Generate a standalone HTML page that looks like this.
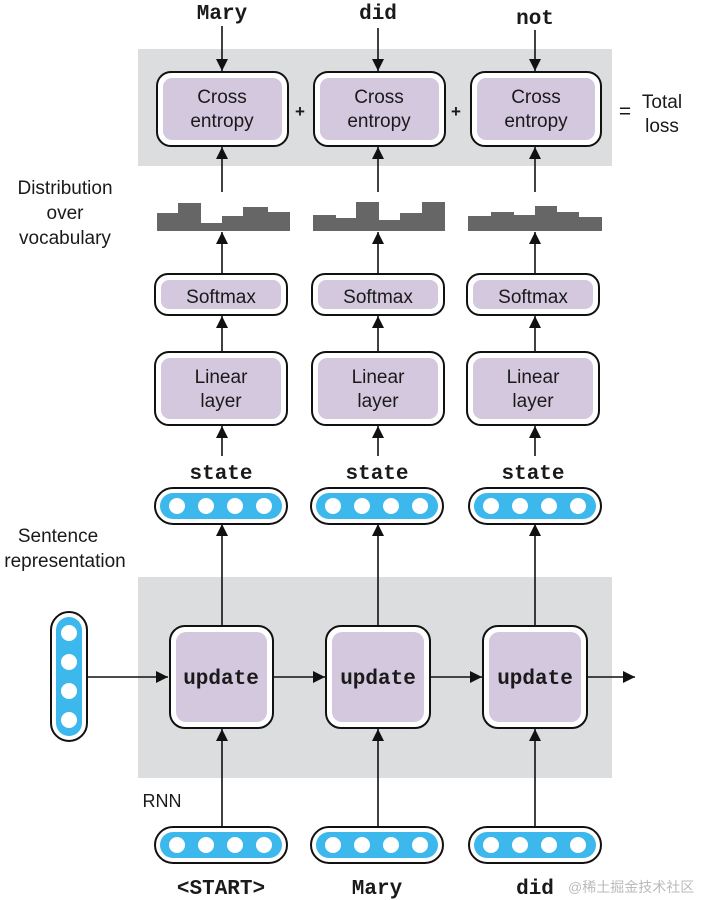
<!DOCTYPE html>
<html><head><meta charset="utf-8"><style>
html,body{margin:0;padding:0;background:#fff;}
svg{display:block;}
.t{font-family:"Liberation Sans",sans-serif;fill:#1a1a1a;font-size:19px;text-anchor:middle;}
.m{font-family:"Liberation Mono",monospace;font-weight:bold;fill:#1a1a1a;font-size:21px;text-anchor:middle;}
</style></head><body>
<svg width="705" height="900" viewBox="0 0 705 900" xmlns="http://www.w3.org/2000/svg">
<defs>
<marker id="a" viewBox="0 0 10 10" refX="10" refY="5" markerWidth="12" markerHeight="14" orient="auto" markerUnits="userSpaceOnUse"><path d="M0,0 L10,5 L0,10 z" fill="#111"/></marker>
<g id="pill">
<rect x="0" y="0" width="132" height="36" rx="18" fill="#fff" stroke="#111" stroke-width="2"/>
<rect x="5" y="5" width="122" height="26" rx="13" fill="#3db8ec"/>
<circle cx="22" cy="18" r="8" fill="#fff"/><circle cx="51" cy="18" r="8" fill="#fff"/><circle cx="80" cy="18" r="8" fill="#fff"/><circle cx="109" cy="18" r="8" fill="#fff"/>
</g>
</defs>
<rect x="138" y="49" width="474" height="117" fill="#dcdddf"/>
<rect x="138" y="577" width="474" height="201" fill="#dcdddf"/>

<text class="m" x="222" y="19">Mary</text>
<text class="m" x="378" y="19">did</text>
<text class="m" x="535" y="24">not</text>

<g stroke="#111" stroke-width="1.6" fill="none">
<line x1="222" y1="26" x2="222" y2="71" marker-end="url(#a)"/>
<line x1="378" y1="28" x2="378" y2="71" marker-end="url(#a)"/>
<line x1="535" y1="30" x2="535" y2="71" marker-end="url(#a)"/>
<line x1="222" y1="192" x2="222" y2="147" marker-end="url(#a)"/>
<line x1="378" y1="192" x2="378" y2="147" marker-end="url(#a)"/>
<line x1="535" y1="192" x2="535" y2="147" marker-end="url(#a)"/>
<line x1="222" y1="274" x2="222" y2="232" marker-end="url(#a)"/>
<line x1="378" y1="274" x2="378" y2="232" marker-end="url(#a)"/>
<line x1="535" y1="274" x2="535" y2="232" marker-end="url(#a)"/>
<line x1="222" y1="352" x2="222" y2="316" marker-end="url(#a)"/>
<line x1="378" y1="352" x2="378" y2="316" marker-end="url(#a)"/>
<line x1="535" y1="352" x2="535" y2="316" marker-end="url(#a)"/>
<line x1="222" y1="456" x2="222" y2="426" marker-end="url(#a)"/>
<line x1="378" y1="456" x2="378" y2="426" marker-end="url(#a)"/>
<line x1="535" y1="456" x2="535" y2="426" marker-end="url(#a)"/>
<line x1="222" y1="626" x2="222" y2="524" marker-end="url(#a)"/>
<line x1="378" y1="626" x2="378" y2="524" marker-end="url(#a)"/>
<line x1="535" y1="626" x2="535" y2="524" marker-end="url(#a)"/>
<line x1="222" y1="827" x2="222" y2="729" marker-end="url(#a)"/>
<line x1="378" y1="827" x2="378" y2="729" marker-end="url(#a)"/>
<line x1="535" y1="827" x2="535" y2="729" marker-end="url(#a)"/>
<line x1="87" y1="677" x2="168" y2="677" marker-end="url(#a)"/>
<line x1="274" y1="677" x2="325" y2="677" marker-end="url(#a)"/>
<line x1="431" y1="677" x2="482" y2="677" marker-end="url(#a)"/>
<line x1="588" y1="677" x2="635" y2="677" marker-end="url(#a)"/>
</g>

<rect x="157" y="72" width="131" height="74" rx="14" fill="#fff" stroke="#111" stroke-width="2"/>
<rect x="163" y="78" width="119" height="62" rx="9" fill="#d3c8de"/>
<rect x="314" y="72" width="131" height="74" rx="14" fill="#fff" stroke="#111" stroke-width="2"/>
<rect x="320" y="78" width="119" height="62" rx="9" fill="#d3c8de"/>
<rect x="471" y="72" width="130" height="74" rx="14" fill="#fff" stroke="#111" stroke-width="2"/>
<rect x="477" y="78" width="118" height="62" rx="9" fill="#d3c8de"/>
<text class="t" x="222" y="103">Cross</text><text class="t" x="222" y="127">entropy</text>
<text class="t" x="379" y="103">Cross</text><text class="t" x="379" y="127">entropy</text>
<text class="t" x="536" y="103">Cross</text><text class="t" x="536" y="127">entropy</text>
<text class="t" x="300" y="117" style="font-size:17px;font-weight:bold">+</text>
<text class="t" x="456" y="117" style="font-size:17px;font-weight:bold">+</text>
<text class="t" x="625" y="118" style="font-size:21px">=</text>
<text class="t" x="662" y="108">Total</text><text class="t" x="662" y="132">loss</text>

<text class="t" x="65" y="194">Distribution</text>
<text class="t" x="65" y="219">over</text>
<text class="t" x="65" y="244">vocabulary</text>

<g fill="#666">
<path d="M157,231 V213 H178 V203 H201 V223 H222 V216 H243 V207 H268 V212 H290 V231 Z"/>
<path d="M313,231 V215 H336 V218 H356 V202 H379 V220 H400 V213 H422 V202 H445 V231 Z"/>
<path d="M468,231 V216 H491 V212 H514 V215 H535 V206 H557 V212 H579 V217 H602 V231 Z"/>
</g>

<rect x="155" y="274" width="132" height="41" rx="13" fill="#fff" stroke="#111" stroke-width="2"/>
<rect x="161" y="280" width="120" height="29" rx="8" fill="#d3c8de"/>
<rect x="312" y="274" width="132" height="41" rx="13" fill="#fff" stroke="#111" stroke-width="2"/>
<rect x="318" y="280" width="120" height="29" rx="8" fill="#d3c8de"/>
<rect x="467" y="274" width="132" height="41" rx="13" fill="#fff" stroke="#111" stroke-width="2"/>
<rect x="473" y="280" width="120" height="29" rx="8" fill="#d3c8de"/>
<text class="t" x="221" y="303">Softmax</text>
<text class="t" x="378" y="303">Softmax</text>
<text class="t" x="533" y="303">Softmax</text>

<rect x="155" y="352" width="132" height="73" rx="14" fill="#fff" stroke="#111" stroke-width="2"/>
<rect x="161" y="358" width="120" height="61" rx="9" fill="#d3c8de"/>
<rect x="312" y="352" width="132" height="73" rx="14" fill="#fff" stroke="#111" stroke-width="2"/>
<rect x="318" y="358" width="120" height="61" rx="9" fill="#d3c8de"/>
<rect x="467" y="352" width="132" height="73" rx="14" fill="#fff" stroke="#111" stroke-width="2"/>
<rect x="473" y="358" width="120" height="61" rx="9" fill="#d3c8de"/>
<text class="t" x="221" y="383">Linear</text><text class="t" x="221" y="407">layer</text>
<text class="t" x="378" y="383">Linear</text><text class="t" x="378" y="407">layer</text>
<text class="t" x="533" y="383">Linear</text><text class="t" x="533" y="407">layer</text>

<text class="m" x="221" y="479">state</text>
<text class="m" x="377" y="479">state</text>
<text class="m" x="533" y="479">state</text>

<use href="#pill" x="155" y="488"/>
<use href="#pill" x="311" y="488"/>
<use href="#pill" x="469" y="488"/>

<text class="t" x="58" y="542">Sentence</text>
<text class="t" x="65" y="567">representation</text>

<rect x="51" y="612" width="36" height="129" rx="18" fill="#fff" stroke="#111" stroke-width="2"/>
<rect x="56" y="617" width="26" height="119" rx="13" fill="#3db8ec"/>
<circle cx="69" cy="633" r="8" fill="#fff"/><circle cx="69" cy="662" r="8" fill="#fff"/><circle cx="69" cy="691" r="8" fill="#fff"/><circle cx="69" cy="720" r="8" fill="#fff"/>

<rect x="170" y="626" width="103" height="102" rx="15" fill="#fff" stroke="#111" stroke-width="2"/>
<rect x="176" y="632" width="91" height="90" rx="10" fill="#d3c8de"/>
<rect x="326" y="626" width="104" height="102" rx="15" fill="#fff" stroke="#111" stroke-width="2"/>
<rect x="332" y="632" width="92" height="90" rx="10" fill="#d3c8de"/>
<rect x="483" y="626" width="104" height="102" rx="15" fill="#fff" stroke="#111" stroke-width="2"/>
<rect x="489" y="632" width="92" height="90" rx="10" fill="#d3c8de"/>
<text class="m" x="221" y="684">update</text>
<text class="m" x="378" y="684">update</text>
<text class="m" x="535" y="684">update</text>

<text class="t" x="162" y="807" style="font-size:18px">RNN</text>

<use href="#pill" x="155" y="827"/>
<use href="#pill" x="311" y="827"/>
<use href="#pill" x="469" y="827"/>

<text class="m" x="221" y="894">&lt;START&gt;</text>
<text class="m" x="377" y="894">Mary</text>
<text class="m" x="535" y="894">did</text>
<text x="568" y="892" style="font-family:'Liberation Sans','Noto Sans CJK SC',sans-serif;font-size:14px;fill:#bbb">@稀土掘金技术社区</text>
</svg>
</body></html>
